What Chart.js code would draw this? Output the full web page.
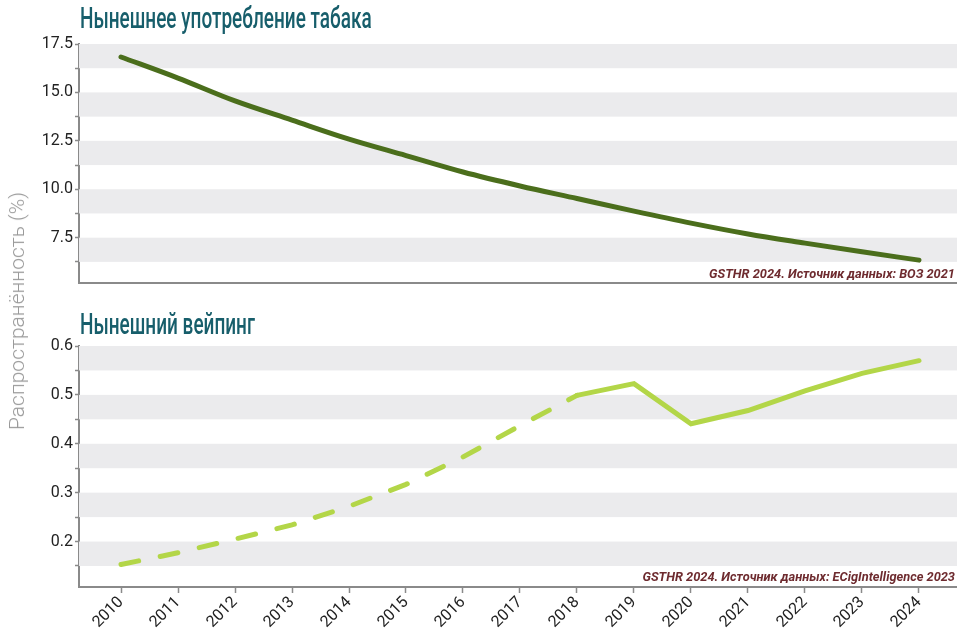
<!DOCTYPE html>
<html lang="ru">

<head>
    <meta charset="UTF-8">
    <title>Распространённость</title>
    <style>
        html,
        body {
            margin: 0;
            padding: 0;
            background: #fff;
        }

        .wrap {
            position: relative;
            width: 957px;
            height: 632px;
            overflow: hidden;
            font-family: Roboto, sans-serif;
        }

        .panel {
            position: absolute;
            left: 0;
        }

        /* no condensed face installed, so squeeze Roboto */
        .title {
            position: absolute;
            left: 80px;
            font-family: Roboto, sans-serif;
            font-weight: 500;
            font-size: 29px;
            color: #175e6b;
            white-space: nowrap;
            transform: scaleX(0.655);
            transform-origin: left top;
        }

        .source {
            position: absolute;
            right: 2px;
            font-size: 12.8px;
            font-weight: bold;
            font-style: italic;
            color: #6e2b2f;
            white-space: nowrap;
        }

        .ytitle {
            position: absolute;
            left: 17px;
            top: 311px;
            transform: translate(-50%, -50%) rotate(-90deg);
            font-size: 21px;
            font-weight: 300;
            color: #9a9a9a;
            white-space: nowrap;
        }
    </style>
</head>

<body>
    <div class="wrap">
        <canvas id="tobaccoChart" class="panel" style="top:0" width="957" height="290"></canvas>
        <canvas id="vapingChart" class="panel" style="top:290px" width="957" height="342"></canvas>
        <div class="title" style="top:1px">Нынешнее употребление табака</div>
        <div class="title" style="top:307px">Нынешний вейпинг</div>
        <div class="source" style="top:266px">GSTHR 2024. Источник данных: ВОЗ 2021</div>
        <div class="source" style="top:569px">GSTHR 2024. Источник данных: ECigIntelligence 2023</div>
        <div class="ytitle">Распространённость (%)</div>
    </div>
</body>

<script src="https://cdn.jsdelivr.net/npm/chart.js@4.4.6/dist/chart.umd.min.js"></script>
<script>
    const years = [2010, 2011, 2012, 2013, 2014, 2015, 2016, 2017, 2018, 2019, 2020, 2021, 2022, 2023, 2024];
    const tobacco = [16.83, 15.74, 14.56, 13.57, 12.59, 11.74, 10.89, 10.17, 9.52, 8.87, 8.25, 7.69, 7.22, 6.77, 6.34];
    const vaping = [0.153, 0.177, 0.205, 0.234, 0.272, 0.317, 0.373, 0.437, 0.499, 0.523, 0.441, 0.468, 0.508, 0.544, 0.570];
    const dashedUntil = 2018;

    const tobaccoTicks = [6.25, 7.5, 8.75, 10, 11.25, 12.5, 13.75, 15, 16.25, 17.5];
    const tobaccoLabels = [7.5, 10, 12.5, 15, 17.5];
    const tobaccoBands = [[6.25, 7.5], [8.75, 10], [11.25, 12.5], [13.75, 15], [16.25, 17.5]];

    const vapingTicks = [0.15, 0.2, 0.25, 0.3, 0.35, 0.4, 0.45, 0.5, 0.55, 0.6];
    const vapingLabels = [0.2, 0.3, 0.4, 0.5, 0.6];
    const vapingBands = [[0.15, 0.2], [0.25, 0.3], [0.35, 0.4], [0.45, 0.5], [0.55, 0.6]];

    const axisGrey = '#8a8a8a';
    const tickFont = { family: 'Roboto, sans-serif', size: 16 };

    // grey stripes behind the lines
    const bandsPlugin = {
        id: 'bands',
        beforeDatasetsDraw(chart, args, opts) {
            const { ctx, chartArea } = chart;
            const y = chart.scales.y;
            ctx.save();
            ctx.fillStyle = '#ebebed';
            (opts.ranges || []).forEach(([a, b]) => {
                const top = y.getPixelForValue(b);
                const bottom = y.getPixelForValue(a);
                ctx.fillRect(chartArea.left, top, chartArea.right - chartArea.left, bottom - top);
            });
            ctx.restore();
        }
    };

    function yScale(min, max, ticks, labels) {
        return {
            type: 'linear',
            min: min,
            max: max,
            afterBuildTicks: (s) => { s.ticks = ticks.map(v => ({ value: v })); },
            afterFit: (s) => {
                s.width = 79;
                // layout padding alone decides where the plot sits
                s.paddingTop = 0;
                s.paddingBottom = 0;
            },
            ticks: {
                padding: 2,
                color: '#222',
                font: tickFont,
                autoSkip: false,
                callback: (v) => labels.some(l => Math.abs(l - v) < 1e-9) ? v.toFixed(1) : '',
            },
            grid: { drawOnChartArea: false, tickLength: 4, tickColor: axisGrey, tickWidth: 1.5 },
            border: { color: axisGrey, width: 2 },
        };
    }

    function xScale(showLabels) {
        return {
            type: 'linear',
            min: 2009.263,
            max: 2024.667,
            afterBuildTicks: (s) => { s.ticks = years.map(v => ({ value: v })); },
            afterFit: (s) => {
                s.height = showLabels ? 45 : 0;
                s.paddingLeft = 0;
                s.paddingRight = 0;
            },
            ticks: {
                display: showLabels,
                color: '#222',
                font: tickFont,
                autoSkip: false,
                maxRotation: 45,
                minRotation: 45,
                padding: 0,
                callback: (v) => String(v),
            },
            grid: { drawOnChartArea: false, drawTicks: showLabels, tickLength: 6, tickColor: axisGrey, tickWidth: 1.5 },
            border: { color: axisGrey, width: 2 },
        };
    }

    new Chart(document.getElementById('tobaccoChart'), {
        type: 'line',
        data: {
            datasets: [{
                label: 'Нынешнее употребление табака',
                data: years.map((x, i) => ({ x: x, y: tobacco[i] })),
                borderColor: '#4b6e1c',
                borderWidth: 5,
                borderCapStyle: 'round',
                cubicInterpolationMode: 'monotone',
                pointRadius: 0,
            }]
        },
        options: {
            responsive: false,
            animation: false,
            layout: { padding: { top: 44, bottom: 7, left: 0, right: 0 } },
            scales: {
                x: xScale(false),
                y: yScale(5.16, 17.5, tobaccoTicks, tobaccoLabels),
            },
            plugins: {
                legend: { display: false },
                tooltip: { enabled: false },
                bands: { ranges: tobaccoBands },
            },
        },
        plugins: [bandsPlugin],
    });

    new Chart(document.getElementById('vapingChart'), {
        type: 'line',
        data: {
            datasets: [{
                label: 'Нынешний вейпинг',
                data: years.map((x, i) => ({ x: x, y: vaping[i] })),
                borderColor: '#b3d648',
                borderWidth: 5,
                borderCapStyle: 'round',
                pointRadius: 0,
                segment: {
                    borderDash: (ctx) => ctx.p0.parsed.x < dashedUntil ? [18, 22] : undefined,
                },
            }]
        },
        options: {
            responsive: false,
            animation: false,
            layout: { padding: { top: 56, bottom: 0, left: 0, right: 0 } },
            scales: {
                x: xScale(true),
                y: yScale(0.107, 0.6, vapingTicks, vapingLabels),
            },
            plugins: {
                legend: { display: false },
                tooltip: { enabled: false },
                bands: { ranges: vapingBands },
            },
        },
        plugins: [bandsPlugin],
    });
</script>

</html>
